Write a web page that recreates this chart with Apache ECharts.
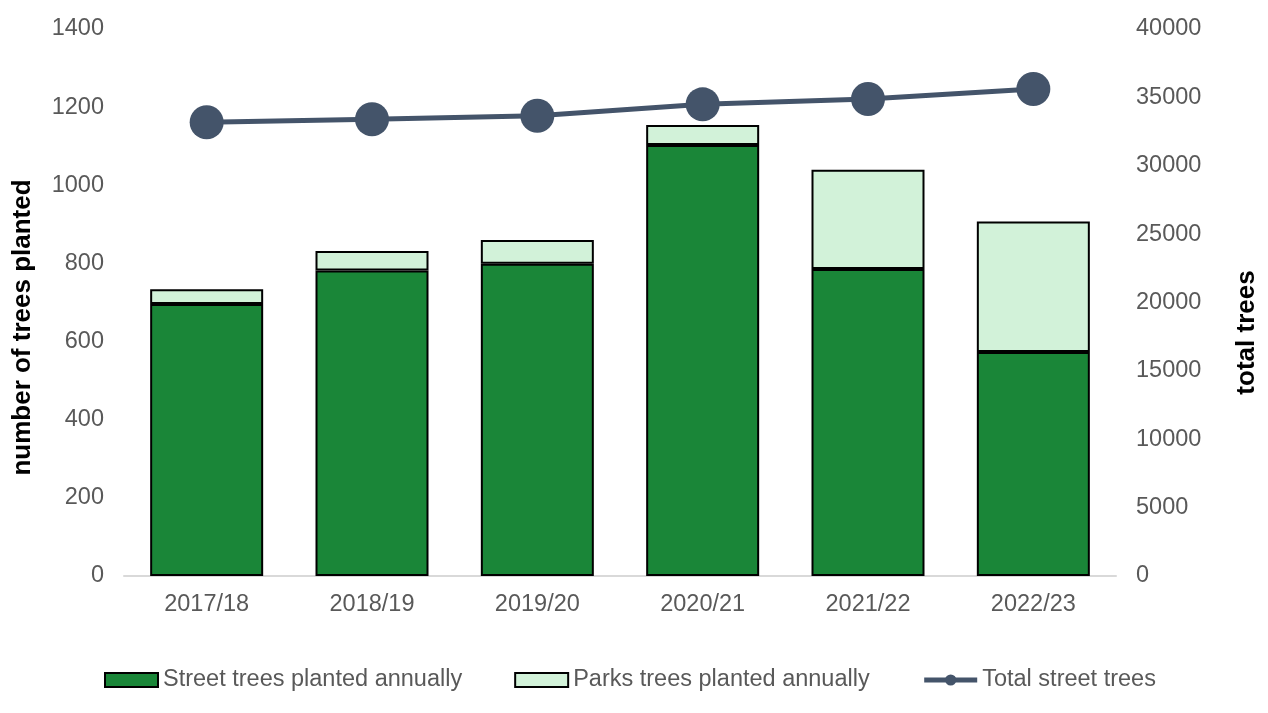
<!DOCTYPE html>
<html>
<head>
<meta charset="utf-8">
<script src="https://cdn.jsdelivr.net/npm/echarts@6/dist/echarts.min.js"></script>
<style>
html,body{margin:0;padding:0;background:#fff;}
#chart{width:1268px;height:713px;}
</style>
</head>
<body>
<div id="chart"></div>
<script>
const categories = ['2017/18', '2018/19', '2019/20', '2020/21', '2021/22', '2022/23'];
const streetPlanted = [696, 782, 799, 1103, 786, 573];
const parksPlanted = [38, 50, 61, 51, 254, 334];
const totalStreetTrees = [33180, 33400, 33660, 34490, 34880, 35610];

const FONT = '"Liberation Sans", Arial, sans-serif';
const plain = v => String(v);
const chart = echarts.init(document.getElementById('chart'));
chart.setOption({
  animation: false,
  backgroundColor: '#ffffff',
  textStyle: { fontFamily: FONT },
  grid: { left: 124, right: 151, top: 29, bottom: 137 },
  legend: {
    left: 99, top: 663,
    itemWidth: 53, itemHeight: 14, itemGap: 52,
    textStyle: { fontFamily: FONT, fontSize: 23.5, color: '#595959' },
    data: [
      { name: 'Street trees planted annually', icon: 'rect' },
      { name: 'Parks trees planted annually', icon: 'rect' },
      { name: 'Total street trees', lineStyle: { width: 5 } }
    ]
  },
  xAxis: {
    type: 'category',
    data: categories,
    axisLine: { lineStyle: { color: '#d9d9d9', width: 2 } },
    axisTick: { show: false },
    axisLabel: { fontSize: 23.5, color: '#595959', margin: 17, fontFamily: FONT }
  },
  yAxis: [
    {
      type: 'value', min: 0, max: 1400, interval: 200,
      name: 'number of trees planted', nameLocation: 'middle', nameGap: 88,
      nameTextStyle: { fontSize: 26, fontWeight: 'bold', color: '#000', fontFamily: FONT, padding: [0, 50, 0, 0] },
      splitLine: { show: false },
      axisLine: { show: false }, axisTick: { show: false },
      axisLabel: { fontSize: 23.5, color: '#595959', margin: 20, fontFamily: FONT, formatter: plain }
    },
    {
      type: 'value', min: 0, max: 40000, interval: 5000,
      name: 'total trees', nameLocation: 'middle', nameGap: 118,
      nameTextStyle: { fontSize: 26, fontWeight: 'bold', color: '#000', fontFamily: FONT, padding: [0, 60, 0, 0] },
      splitLine: { show: false },
      axisLine: { show: false }, axisTick: { show: false },
      axisLabel: { fontSize: 23.5, color: '#595959', margin: 20, fontFamily: FONT, formatter: plain }
    }
  ],
  series: [
    {
      name: 'Street trees planted annually', type: 'bar', stack: 'a', yAxisIndex: 0,
      data: streetPlanted, barWidth: 113,
      itemStyle: { color: '#1a8638', borderColor: '#000', borderWidth: 2 }
    },
    {
      name: 'Parks trees planted annually', type: 'bar', stack: 'a', yAxisIndex: 0,
      data: parksPlanted, barWidth: 113,
      itemStyle: { color: '#d2f2d9', borderColor: '#000', borderWidth: 2 }
    },
    {
      name: 'Total street trees', type: 'line', yAxisIndex: 1,
      data: totalStreetTrees,
      symbol: 'circle', symbolSize: 34,
      lineStyle: { color: '#44546a', width: 5 },
      itemStyle: { color: '#44546a' }
    }
  ]
});
</script>
</body>
</html>
